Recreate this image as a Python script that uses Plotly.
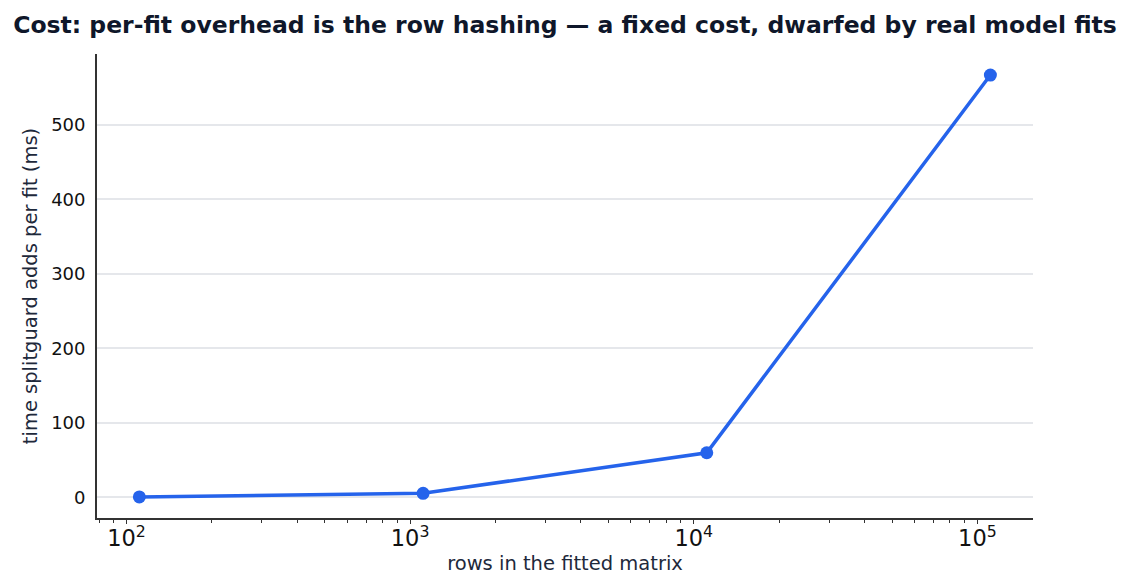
import plotly.graph_objects as go

rows = [111, 1111, 11111, 111111]
time_ms = [0.5, 5.4, 59.8, 567]

title = "Cost: per-fit overhead is the row hashing — a fixed cost, dwarfed by real model fits"
x_label = "rows in the fitted matrix"
y_label = "time splitguard adds per fit (ms)"
y_ticks = [0, 100, 200, 300, 400, 500]

fig = go.Figure()
fig.add_trace(go.Scatter(
    x=rows, y=time_ms, mode="lines+markers",
    line=dict(color="#2563eb", width=3.5),
    marker=dict(color="#2563eb", size=13),
    showlegend=False,
))

fig.update_layout(
    width=1130, height=587,
    margin=dict(l=97, r=97, t=54, b=69),
    paper_bgcolor="white", plot_bgcolor="white",
    font=dict(family="DejaVu Sans", size=18, color="#111111"),
    title=dict(text="<b>" + title + "</b>", x=0.5, xanchor="center",
               y=1 - 25 / 587, yanchor="middle", yref="container",
               font=dict(size=23.5, color="#0f172a", family="DejaVu Sans")),
)
fig.update_xaxes(
    type="log", range=[1.896, 5.196], dtick=1, exponentformat="power",
    showgrid=False, zeroline=False,
    showline=True, linecolor="#333333", linewidth=1.8,
    ticks="outside", ticklen=4, tickwidth=1.4, tickcolor="#333333",
    ticklabelstandoff=-4,
    minor=dict(ticks="outside", ticklen=3.5, tickwidth=1, tickcolor="#333333", dtick="D1", showgrid=False),
    title=dict(text=x_label, font=dict(size=19.5, color="#1e293b"), standoff=6),
    tickfont=dict(size=18, color="#111111"),
)
fig.update_yaxes(
    range=[-27.8, 595.3], tickvals=y_ticks,
    showgrid=True, gridcolor="#e5e7eb", gridwidth=1.5, zeroline=False,
    showline=True, linecolor="#333333", linewidth=1.8,
    ticks="", ticklen=0, ticklabelstandoff=6,
    title=dict(text=y_label, font=dict(size=19.5, color="#1e293b"), standoff=8),
    tickfont=dict(size=18, color="#111111"),
)

fig.write_html("out.html")
